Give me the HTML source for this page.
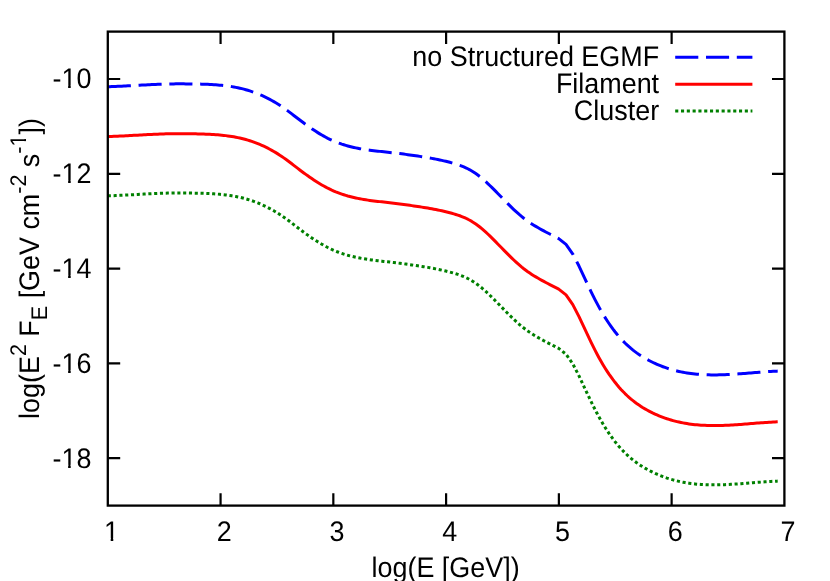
<!DOCTYPE html>
<html><head><meta charset="utf-8"><title>plot</title>
<style>
html,body{margin:0;padding:0;background:#fff;}
svg{display:block;will-change:transform;}
g.t{filter:grayscale(1);}
text{font-family:"Liberation Sans",sans-serif;font-size:26.67px;fill:#000;text-rendering:geometricPrecision;}
.s{font-size:21.33px;}
</style></head><body>
<svg width="830" height="581" viewBox="0 0 830 581">
<rect width="830" height="581" fill="#fff"/>
<g fill="none" stroke-linejoin="round">
<path d="M107.80,86.75L109.80,86.68L111.80,86.61L113.80,86.53L115.80,86.45L117.80,86.36L119.80,86.27L121.80,86.17L123.80,86.07L125.80,85.97L127.80,85.86L129.80,85.75L131.80,85.64L133.80,85.53L135.80,85.42L137.80,85.31L139.80,85.20L141.80,85.09L143.80,84.99L145.80,84.88L147.80,84.78L149.80,84.68L151.80,84.58L153.80,84.49L155.80,84.40L157.80,84.31L159.80,84.24L161.80,84.16L163.80,84.10L165.80,84.04L167.80,83.99L169.80,83.94L171.80,83.91L173.80,83.88L175.80,83.86L177.80,83.85L179.80,83.85L181.80,83.85L183.80,83.86L185.80,83.88L187.80,83.90L189.80,83.92L191.80,83.95L193.80,83.99L195.80,84.02L197.80,84.06L199.80,84.11L201.80,84.16L203.80,84.22L205.80,84.29L207.80,84.37L209.80,84.46L211.80,84.57L213.80,84.68L215.80,84.82L217.80,84.97L219.80,85.14L221.80,85.33L223.80,85.54L225.80,85.78L227.80,86.04L229.80,86.32L231.80,86.64L233.80,86.98L235.80,87.35L237.80,87.75L239.80,88.18L241.80,88.65L243.80,89.15L245.80,89.69L247.80,90.27L249.80,90.89L251.80,91.55L253.80,92.25L255.80,92.99L257.80,93.77L259.80,94.60L261.80,95.46L263.80,96.37L265.80,97.33L267.80,98.33L269.80,99.37L271.80,100.46L273.80,101.60L275.80,102.78L277.80,104.01L279.80,105.29L281.80,106.61L283.80,107.99L285.80,109.41L287.80,110.88L289.80,112.38L291.80,113.90L293.80,115.44L295.80,116.98L297.80,118.52L299.80,120.05L301.80,121.56L303.80,123.05L305.80,124.51L307.80,125.94L309.80,127.35L311.80,128.72L313.80,130.06L315.80,131.36L317.80,132.62L319.80,133.85L321.80,135.03L323.80,136.17L325.80,137.26L327.80,138.31L329.80,139.30L331.80,140.24L333.80,141.12L335.80,141.95L337.80,142.73L339.80,143.46L341.80,144.15L343.80,144.79L345.80,145.40L347.80,145.97L349.80,146.50L351.80,146.99L353.80,147.46L355.80,147.89L357.80,148.29L359.80,148.66L361.80,149.02L363.80,149.34L365.80,149.65L367.80,149.94L369.80,150.21L371.80,150.46L373.80,150.71L375.80,150.94L377.80,151.16L379.80,151.38L381.80,151.59L383.80,151.80L385.80,152.01L387.80,152.22L389.80,152.43L391.80,152.65L393.80,152.88L395.80,153.11L397.80,153.35L399.80,153.59L401.80,153.85L403.80,154.11L405.80,154.38L407.80,154.65L409.80,154.93L411.80,155.21L413.80,155.50L415.80,155.79L417.80,156.08L419.80,156.39L421.80,156.69L423.80,157.01L425.80,157.34L427.80,157.67L429.80,158.02L431.80,158.38L433.80,158.75L435.80,159.13L437.80,159.53L439.80,159.95L441.80,160.38L443.80,160.84L445.80,161.31L447.80,161.80L449.80,162.31L451.80,162.85L453.80,163.41L455.80,164.01L457.80,164.65L459.80,165.34L461.80,166.09L463.80,166.90L465.80,167.79L467.80,168.75L469.80,169.80L471.80,170.95L473.80,172.19L475.80,173.54L477.80,175.00L479.80,176.55L481.80,178.19L483.80,179.91L485.80,181.70L487.80,183.55L489.80,185.46L491.80,187.41L493.80,189.40L495.80,191.42L497.80,193.45L499.80,195.51L501.80,197.56L503.80,199.62L505.80,201.66L507.80,203.68L509.80,205.68L511.80,207.64L513.80,209.55L515.80,211.42L517.80,213.23L519.80,214.97L521.80,216.63L523.80,218.22L525.80,219.73L527.80,221.18L529.80,222.56L531.80,223.88L533.80,225.16L535.80,226.38L537.80,227.56L539.80,228.71L541.80,229.82L543.80,230.90L545.80,231.96L547.80,233.00L549.80,234.03L551.80,235.04L553.80,236.06L555.80,237.08L557.80,238.11L558.70,238.57L566.00,244.37L572.80,254.06L579.00,266.06L581.00,270.33L583.00,274.61L585.00,278.90L587.00,283.16L589.00,287.38L591.00,291.54L593.00,295.61L595.00,299.58L597.00,303.42L599.00,307.12L601.00,310.68L603.00,314.10L605.00,317.38L607.00,320.52L609.00,323.52L611.00,326.39L613.00,329.13L615.00,331.74L617.00,334.22L619.00,336.58L621.00,338.83L623.00,340.96L625.00,342.98L627.00,344.91L629.00,346.73L631.00,348.45L633.00,350.09L635.00,351.64L637.00,353.11L639.00,354.51L641.00,355.83L643.00,357.08L645.00,358.27L647.00,359.41L649.00,360.48L651.00,361.51L653.00,362.49L655.00,363.43L657.00,364.32L659.00,365.17L661.00,365.98L663.00,366.74L665.00,367.46L667.00,368.14L669.00,368.79L671.00,369.39L673.00,369.96L675.00,370.49L677.00,370.99L679.00,371.45L681.00,371.88L683.00,372.27L685.00,372.63L687.00,372.97L689.00,373.27L691.00,373.54L693.00,373.79L695.00,374.01L697.00,374.20L699.00,374.37L701.00,374.51L703.00,374.63L705.00,374.73L707.00,374.81L709.00,374.86L711.00,374.90L713.00,374.91L715.00,374.91L717.00,374.90L719.00,374.86L721.00,374.81L723.00,374.75L725.00,374.68L727.00,374.59L729.00,374.49L731.00,374.38L733.00,374.26L735.00,374.13L737.00,374.00L739.00,373.86L741.00,373.71L743.00,373.56L745.00,373.40L747.00,373.24L749.00,373.08L751.00,372.92L753.00,372.75L755.00,372.59L757.00,372.43L759.00,372.28L761.00,372.12L763.00,371.97L765.00,371.83L767.00,371.69L769.00,371.56L771.00,371.44L773.00,371.32L775.00,371.22L777.00,371.13L777.70,371.10" stroke="#0000ff" stroke-width="3.0" stroke-dasharray="23.1 7.7"/>
<path d="M107.80,136.55L109.80,136.48L111.80,136.41L113.80,136.34L115.80,136.25L117.80,136.17L119.80,136.07L121.80,135.98L123.80,135.88L125.80,135.78L127.80,135.67L129.80,135.56L131.80,135.46L133.80,135.35L135.80,135.24L137.80,135.13L139.80,135.02L141.80,134.91L143.80,134.80L145.80,134.70L147.80,134.59L149.80,134.50L151.80,134.40L153.80,134.31L155.80,134.22L157.80,134.14L159.80,134.06L161.80,133.99L163.80,133.92L165.80,133.86L167.80,133.81L169.80,133.77L171.80,133.74L173.80,133.71L175.80,133.69L177.80,133.68L179.80,133.68L181.80,133.68L183.80,133.69L185.80,133.71L187.80,133.73L189.80,133.76L191.80,133.79L193.80,133.82L195.80,133.86L197.80,133.91L199.80,133.95L201.80,134.01L203.80,134.07L205.80,134.14L207.80,134.22L209.80,134.31L211.80,134.41L213.80,134.53L215.80,134.67L217.80,134.82L219.80,134.99L221.80,135.18L223.80,135.40L225.80,135.63L227.80,135.89L229.80,136.18L231.80,136.49L233.80,136.83L235.80,137.20L237.80,137.61L239.80,138.04L241.80,138.51L243.80,139.02L245.80,139.56L247.80,140.14L249.80,140.76L251.80,141.41L253.80,142.11L255.80,142.86L257.80,143.64L259.80,144.46L261.80,145.33L263.80,146.24L265.80,147.20L267.80,148.20L269.80,149.25L271.80,150.34L273.80,151.47L275.80,152.66L277.80,153.89L279.80,155.17L281.80,156.49L283.80,157.87L285.80,159.29L287.80,160.76L289.80,162.26L291.80,163.78L293.80,165.32L295.80,166.87L297.80,168.41L299.80,169.94L301.80,171.45L303.80,172.94L305.80,174.40L307.80,175.83L309.80,177.24L311.80,178.61L313.80,179.95L315.80,181.25L317.80,182.52L319.80,183.74L321.80,184.93L323.80,186.07L325.80,187.16L327.80,188.21L329.80,189.20L331.80,190.15L333.80,191.04L335.80,191.89L337.80,192.68L339.80,193.43L341.80,194.13L343.80,194.79L345.80,195.41L347.80,196.00L349.80,196.54L351.80,197.05L353.80,197.53L355.80,197.97L357.80,198.39L359.80,198.78L361.80,199.14L363.80,199.48L365.80,199.80L367.80,200.11L369.80,200.39L371.80,200.66L373.80,200.92L375.80,201.17L377.80,201.40L379.80,201.63L381.80,201.86L383.80,202.09L385.80,202.31L387.80,202.53L389.80,202.76L391.80,203.00L393.80,203.24L395.80,203.48L397.80,203.73L399.80,203.99L401.80,204.25L403.80,204.51L405.80,204.78L407.80,205.06L409.80,205.34L411.80,205.62L413.80,205.91L415.80,206.20L417.80,206.50L419.80,206.80L421.80,207.11L423.80,207.43L425.80,207.76L427.80,208.09L429.80,208.44L431.80,208.80L433.80,209.18L435.80,209.56L437.80,209.96L439.80,210.38L441.80,210.82L443.80,211.27L445.80,211.74L447.80,212.24L449.80,212.75L451.80,213.29L453.80,213.85L455.80,214.45L457.80,215.09L459.80,215.79L461.80,216.54L463.80,217.35L465.80,218.24L467.80,219.21L469.80,220.26L471.80,221.40L473.80,222.65L475.80,224.00L477.80,225.46L479.80,227.02L481.80,228.66L483.80,230.38L485.80,232.17L487.80,234.02L489.80,235.93L491.80,237.88L493.80,239.87L495.80,241.89L497.80,243.93L499.80,245.99L501.80,248.04L503.80,250.10L505.80,252.14L507.80,254.17L509.80,256.16L511.80,258.12L513.80,260.04L515.80,261.91L517.80,263.72L519.80,265.46L521.80,267.13L523.80,268.72L525.80,270.23L527.80,271.68L529.80,273.06L531.80,274.39L533.80,275.66L535.80,276.89L537.80,278.07L539.80,279.22L541.80,280.33L543.80,281.41L545.80,282.47L547.80,283.52L549.80,284.54L551.80,285.57L553.80,286.58L555.80,287.60L557.80,288.63L558.70,289.10L566.00,294.90L572.80,304.60L579.00,316.60L581.00,320.87L583.00,325.16L585.00,329.45L587.00,333.71L589.00,337.93L591.00,342.09L593.00,346.16L595.00,350.13L597.00,353.98L599.00,357.68L601.00,361.24L603.00,364.66L605.00,367.94L607.00,371.08L609.00,374.09L611.00,376.96L613.00,379.70L615.00,382.31L617.00,384.79L619.00,387.16L621.00,389.40L623.00,391.54L625.00,393.56L627.00,395.49L629.00,397.31L631.00,399.04L633.00,400.68L635.00,402.23L637.00,403.70L639.00,405.10L641.00,406.42L643.00,407.68L645.00,408.87L647.00,410.00L649.00,411.08L651.00,412.11L653.00,413.10L655.00,414.03L657.00,414.93L659.00,415.78L661.00,416.58L663.00,417.35L665.00,418.07L667.00,418.76L669.00,419.40L671.00,420.01L673.00,420.58L675.00,421.11L677.00,421.61L679.00,422.07L681.00,422.50L683.00,422.90L685.00,423.26L687.00,423.60L689.00,423.90L691.00,424.18L693.00,424.42L695.00,424.64L697.00,424.84L699.00,425.01L701.00,425.15L703.00,425.27L705.00,425.37L707.00,425.45L709.00,425.51L711.00,425.54L713.00,425.56L715.00,425.56L717.00,425.55L719.00,425.52L721.00,425.47L723.00,425.41L725.00,425.33L727.00,425.25L729.00,425.15L731.00,425.04L733.00,424.93L735.00,424.80L737.00,424.67L739.00,424.53L741.00,424.38L743.00,424.23L745.00,424.07L747.00,423.92L749.00,423.76L751.00,423.60L753.00,423.44L755.00,423.28L757.00,423.12L759.00,422.96L761.00,422.81L763.00,422.66L765.00,422.52L767.00,422.38L769.00,422.25L771.00,422.13L773.00,422.02L775.00,421.92L777.00,421.83L777.70,421.80" stroke="#ff0000" stroke-width="3.0"/>
<path d="M107.80,195.85L109.80,195.78L111.80,195.71L113.80,195.64L115.80,195.55L117.80,195.47L119.80,195.37L121.80,195.28L123.80,195.18L125.80,195.08L127.80,194.97L129.80,194.86L131.80,194.76L133.80,194.65L135.80,194.54L137.80,194.43L139.80,194.32L141.80,194.21L143.80,194.10L145.80,194.00L147.80,193.89L149.80,193.80L151.80,193.70L153.80,193.61L155.80,193.52L157.80,193.44L159.80,193.36L161.80,193.29L163.80,193.22L165.80,193.16L167.80,193.11L169.80,193.07L171.80,193.04L173.80,193.01L175.80,192.99L177.80,192.98L179.80,192.98L181.80,192.98L183.80,192.99L185.80,193.01L187.80,193.03L189.80,193.06L191.80,193.09L193.80,193.12L195.80,193.16L197.80,193.21L199.80,193.25L201.80,193.31L203.80,193.37L205.80,193.44L207.80,193.52L209.80,193.61L211.80,193.71L213.80,193.83L215.80,193.97L217.80,194.12L219.80,194.29L221.80,194.48L223.80,194.70L225.80,194.93L227.80,195.19L229.80,195.48L231.80,195.79L233.80,196.13L235.80,196.50L237.80,196.91L239.80,197.34L241.80,197.81L243.80,198.32L245.80,198.86L247.80,199.44L249.80,200.06L251.80,200.71L253.80,201.41L255.80,202.16L257.80,202.94L259.80,203.76L261.80,204.63L263.80,205.54L265.80,206.50L267.80,207.50L269.80,208.55L271.80,209.64L273.80,210.77L275.80,211.96L277.80,213.19L279.80,214.47L281.80,215.79L283.80,217.17L285.80,218.59L287.80,220.06L289.80,221.56L291.80,223.08L293.80,224.62L295.80,226.17L297.80,227.71L299.80,229.24L301.80,230.75L303.80,232.24L305.80,233.70L307.80,235.13L309.80,236.54L311.80,237.91L313.80,239.25L315.80,240.55L317.80,241.82L319.80,243.04L321.80,244.23L323.80,245.37L325.80,246.46L327.80,247.51L329.80,248.50L331.80,249.45L333.80,250.34L335.80,251.19L337.80,251.98L339.80,252.73L341.80,253.43L343.80,254.09L345.80,254.71L347.80,255.30L349.80,255.84L351.80,256.35L353.80,256.83L355.80,257.27L357.80,257.69L359.80,258.08L361.80,258.44L363.80,258.78L365.80,259.10L367.80,259.41L369.80,259.69L371.80,259.96L373.80,260.22L375.80,260.47L377.80,260.70L379.80,260.93L381.80,261.16L383.80,261.39L385.80,261.61L387.80,261.83L389.80,262.06L391.80,262.30L393.80,262.54L395.80,262.78L397.80,263.03L399.80,263.29L401.80,263.55L403.80,263.81L405.80,264.08L407.80,264.36L409.80,264.64L411.80,264.92L413.80,265.21L415.80,265.50L417.80,265.80L419.80,266.10L421.80,266.41L423.80,266.73L425.80,267.06L427.80,267.39L429.80,267.74L431.80,268.10L433.80,268.48L435.80,268.86L437.80,269.26L439.80,269.68L441.80,270.12L443.80,270.57L445.80,271.04L447.80,271.54L449.80,272.05L451.80,272.59L453.80,273.15L455.80,273.75L457.80,274.39L459.80,275.09L461.80,275.84L463.80,276.65L465.80,277.54L467.80,278.51L469.80,279.56L471.80,280.70L473.80,281.95L475.80,283.30L477.80,284.76L479.80,286.32L481.80,287.96L483.80,289.68L485.80,291.47L487.80,293.32L489.80,295.23L491.80,297.18L493.80,299.17L495.80,301.19L497.80,303.23L499.80,305.29L501.80,307.34L503.80,309.40L505.80,311.44L507.80,313.47L509.80,315.46L511.80,317.42L513.80,319.34L515.80,321.21L517.80,323.02L519.80,324.76L521.80,326.43L523.80,328.02L525.80,329.53L527.80,330.98L529.80,332.36L531.80,333.69L533.80,334.96L535.80,336.19L537.80,337.37L539.80,338.52L541.80,339.63L543.80,340.71L545.80,341.77L547.80,342.82L549.80,343.84L551.80,344.87L553.80,345.88L555.80,346.90L557.80,347.93L558.70,348.40L566.00,354.20L572.80,363.90L579.00,375.90L581.00,380.17L583.00,384.46L585.00,388.75L587.00,393.01L589.00,397.23L591.00,401.39L593.00,405.46L595.00,409.43L597.00,413.28L599.00,416.98L601.00,420.54L603.00,423.96L605.00,427.24L607.00,430.38L609.00,433.39L611.00,436.26L613.00,439.00L615.00,441.61L617.00,444.09L619.00,446.46L621.00,448.70L623.00,450.84L625.00,452.86L627.00,454.79L629.00,456.61L631.00,458.34L633.00,459.98L635.00,461.53L637.00,463.00L639.00,464.40L641.00,465.72L643.00,466.98L645.00,468.17L647.00,469.30L649.00,470.38L651.00,471.41L653.00,472.40L655.00,473.33L657.00,474.23L659.00,475.08L661.00,475.88L663.00,476.65L665.00,477.37L667.00,478.06L669.00,478.70L671.00,479.31L673.00,479.88L675.00,480.41L677.00,480.91L679.00,481.37L681.00,481.80L683.00,482.20L685.00,482.56L687.00,482.90L689.00,483.20L691.00,483.48L693.00,483.72L695.00,483.94L697.00,484.14L699.00,484.31L701.00,484.45L703.00,484.57L705.00,484.67L707.00,484.75L709.00,484.81L711.00,484.84L713.00,484.86L715.00,484.86L717.00,484.85L719.00,484.82L721.00,484.77L723.00,484.71L725.00,484.63L727.00,484.55L729.00,484.45L731.00,484.34L733.00,484.23L735.00,484.10L737.00,483.97L739.00,483.83L741.00,483.68L743.00,483.53L745.00,483.37L747.00,483.22L749.00,483.06L751.00,482.90L753.00,482.74L755.00,482.58L757.00,482.42L759.00,482.26L761.00,482.11L763.00,481.96L765.00,481.82L767.00,481.68L769.00,481.55L771.00,481.43L773.00,481.32L775.00,481.22L777.00,481.13L777.70,481.10" stroke="#008000" stroke-width="3.0" stroke-dasharray="3.1 2.7"/>
<path d="M675.2,57.3H752.4" stroke="#0000ff" stroke-width="3.0" stroke-dasharray="23.1 7.7"/>
<path d="M675.2,84.2H752.4" stroke="#ff0000" stroke-width="3.0"/>
<path d="M675.2,111H752.4" stroke="#008000" stroke-width="3.0" stroke-dasharray="3.1 2.7"/>
</g>
<g fill="none" stroke="#000" stroke-width="2.3" stroke-linecap="butt">
<path d="M220.57,505.60v-12.40 M220.57,31.60v12.40 M333.33,505.60v-12.40 M333.33,31.60v12.40 M446.10,505.60v-12.40 M446.10,31.60v12.40 M558.87,505.60v-12.40 M558.87,31.60v12.40 M671.63,505.60v-12.40 M671.63,31.60v12.40 M107.80,79.00h12.40 M784.40,79.00h-12.40 M107.80,173.80h12.40 M784.40,173.80h-12.40 M107.80,268.60h12.40 M784.40,268.60h-12.40 M107.80,363.40h12.40 M784.40,363.40h-12.40 M107.80,458.20h12.40 M784.40,458.20h-12.40 " stroke-width="2.2"/>
<rect x="107.8" y="31.6" width="676.60" height="474.00"/>
</g>
<g class="t">
<g transform="translate(111.50,541.00) scale(1.0095,1.0600)"><text text-anchor="middle">1</text><rect x="-6.08" y="-2.59" width="5.28" height="3.19" fill="#fff"/><rect x="1.75" y="-2.59" width="5.57" height="3.19" fill="#fff"/></g>
<g transform="translate(224.27,541.00) scale(1.0095,1.0600)"><text text-anchor="middle">2</text></g>
<g transform="translate(337.03,541.00) scale(1.0095,1.0600)"><text text-anchor="middle">3</text></g>
<g transform="translate(449.80,541.00) scale(1.0095,1.0600)"><text text-anchor="middle">4</text></g>
<g transform="translate(562.57,541.00) scale(1.0095,1.0600)"><text text-anchor="middle">5</text></g>
<g transform="translate(675.33,541.00) scale(1.0095,1.0600)"><text text-anchor="middle">6</text></g>
<g transform="translate(788.10,541.00) scale(1.0095,1.0600)"><text text-anchor="middle">7</text></g>

<g transform="translate(91.40,88.30) scale(1.0095,1.0600)"><text text-anchor="end">-10</text><rect x="-28.33" y="-2.59" width="5.28" height="3.19" fill="#fff"/><rect x="-20.50" y="-2.59" width="5.57" height="3.19" fill="#fff"/></g>
<g transform="translate(91.40,183.10) scale(1.0095,1.0600)"><text text-anchor="end">-12</text><rect x="-28.33" y="-2.59" width="5.28" height="3.19" fill="#fff"/><rect x="-20.50" y="-2.59" width="5.57" height="3.19" fill="#fff"/></g>
<g transform="translate(91.40,277.90) scale(1.0095,1.0600)"><text text-anchor="end">-14</text><rect x="-28.33" y="-2.59" width="5.28" height="3.19" fill="#fff"/><rect x="-20.50" y="-2.59" width="5.57" height="3.19" fill="#fff"/></g>
<g transform="translate(91.40,372.70) scale(1.0095,1.0600)"><text text-anchor="end">-16</text><rect x="-28.33" y="-2.59" width="5.28" height="3.19" fill="#fff"/><rect x="-20.50" y="-2.59" width="5.57" height="3.19" fill="#fff"/></g>
<g transform="translate(91.40,467.50) scale(1.0095,1.0600)"><text text-anchor="end">-18</text><rect x="-28.33" y="-2.59" width="5.28" height="3.19" fill="#fff"/><rect x="-20.50" y="-2.59" width="5.57" height="3.19" fill="#fff"/></g>

<g transform="translate(659.10,65.80) scale(1.0095,1.0600)"><text text-anchor="end">no Structured EGMF</text></g>
<g transform="translate(659.10,92.80) scale(1.0095,1.0600)"><text text-anchor="end">Filament</text></g>
<g transform="translate(659.10,119.70) scale(1.0095,1.0600)"><text text-anchor="end">Cluster</text></g>
<g transform="translate(445.60,577.00) scale(1.0095,1.0600)"><text text-anchor="middle">log(E [GeV])</text></g>
<g transform="translate(39.0,418.9) rotate(-90) scale(1.009,1.06)"><text x="0" y="0">log(E<tspan class="s" dy="-12.264">2</tspan><tspan dy="12.264"> F</tspan><tspan class="s" dy="7.547">E</tspan><tspan dy="-7.547"> [GeV cm</tspan><tspan class="s" dy="-12.264">-2</tspan><tspan dy="12.264"> s</tspan><tspan class="s" dy="-12.264">-1</tspan><tspan dy="12.264">])</tspan></text><rect x="270.94" y="-14.46" width="4.34" height="2.79" fill="#fff"/><rect x="277.36" y="-14.46" width="4.67" height="2.79" fill="#fff"/></g>
</g>
</svg>
</body></html>
